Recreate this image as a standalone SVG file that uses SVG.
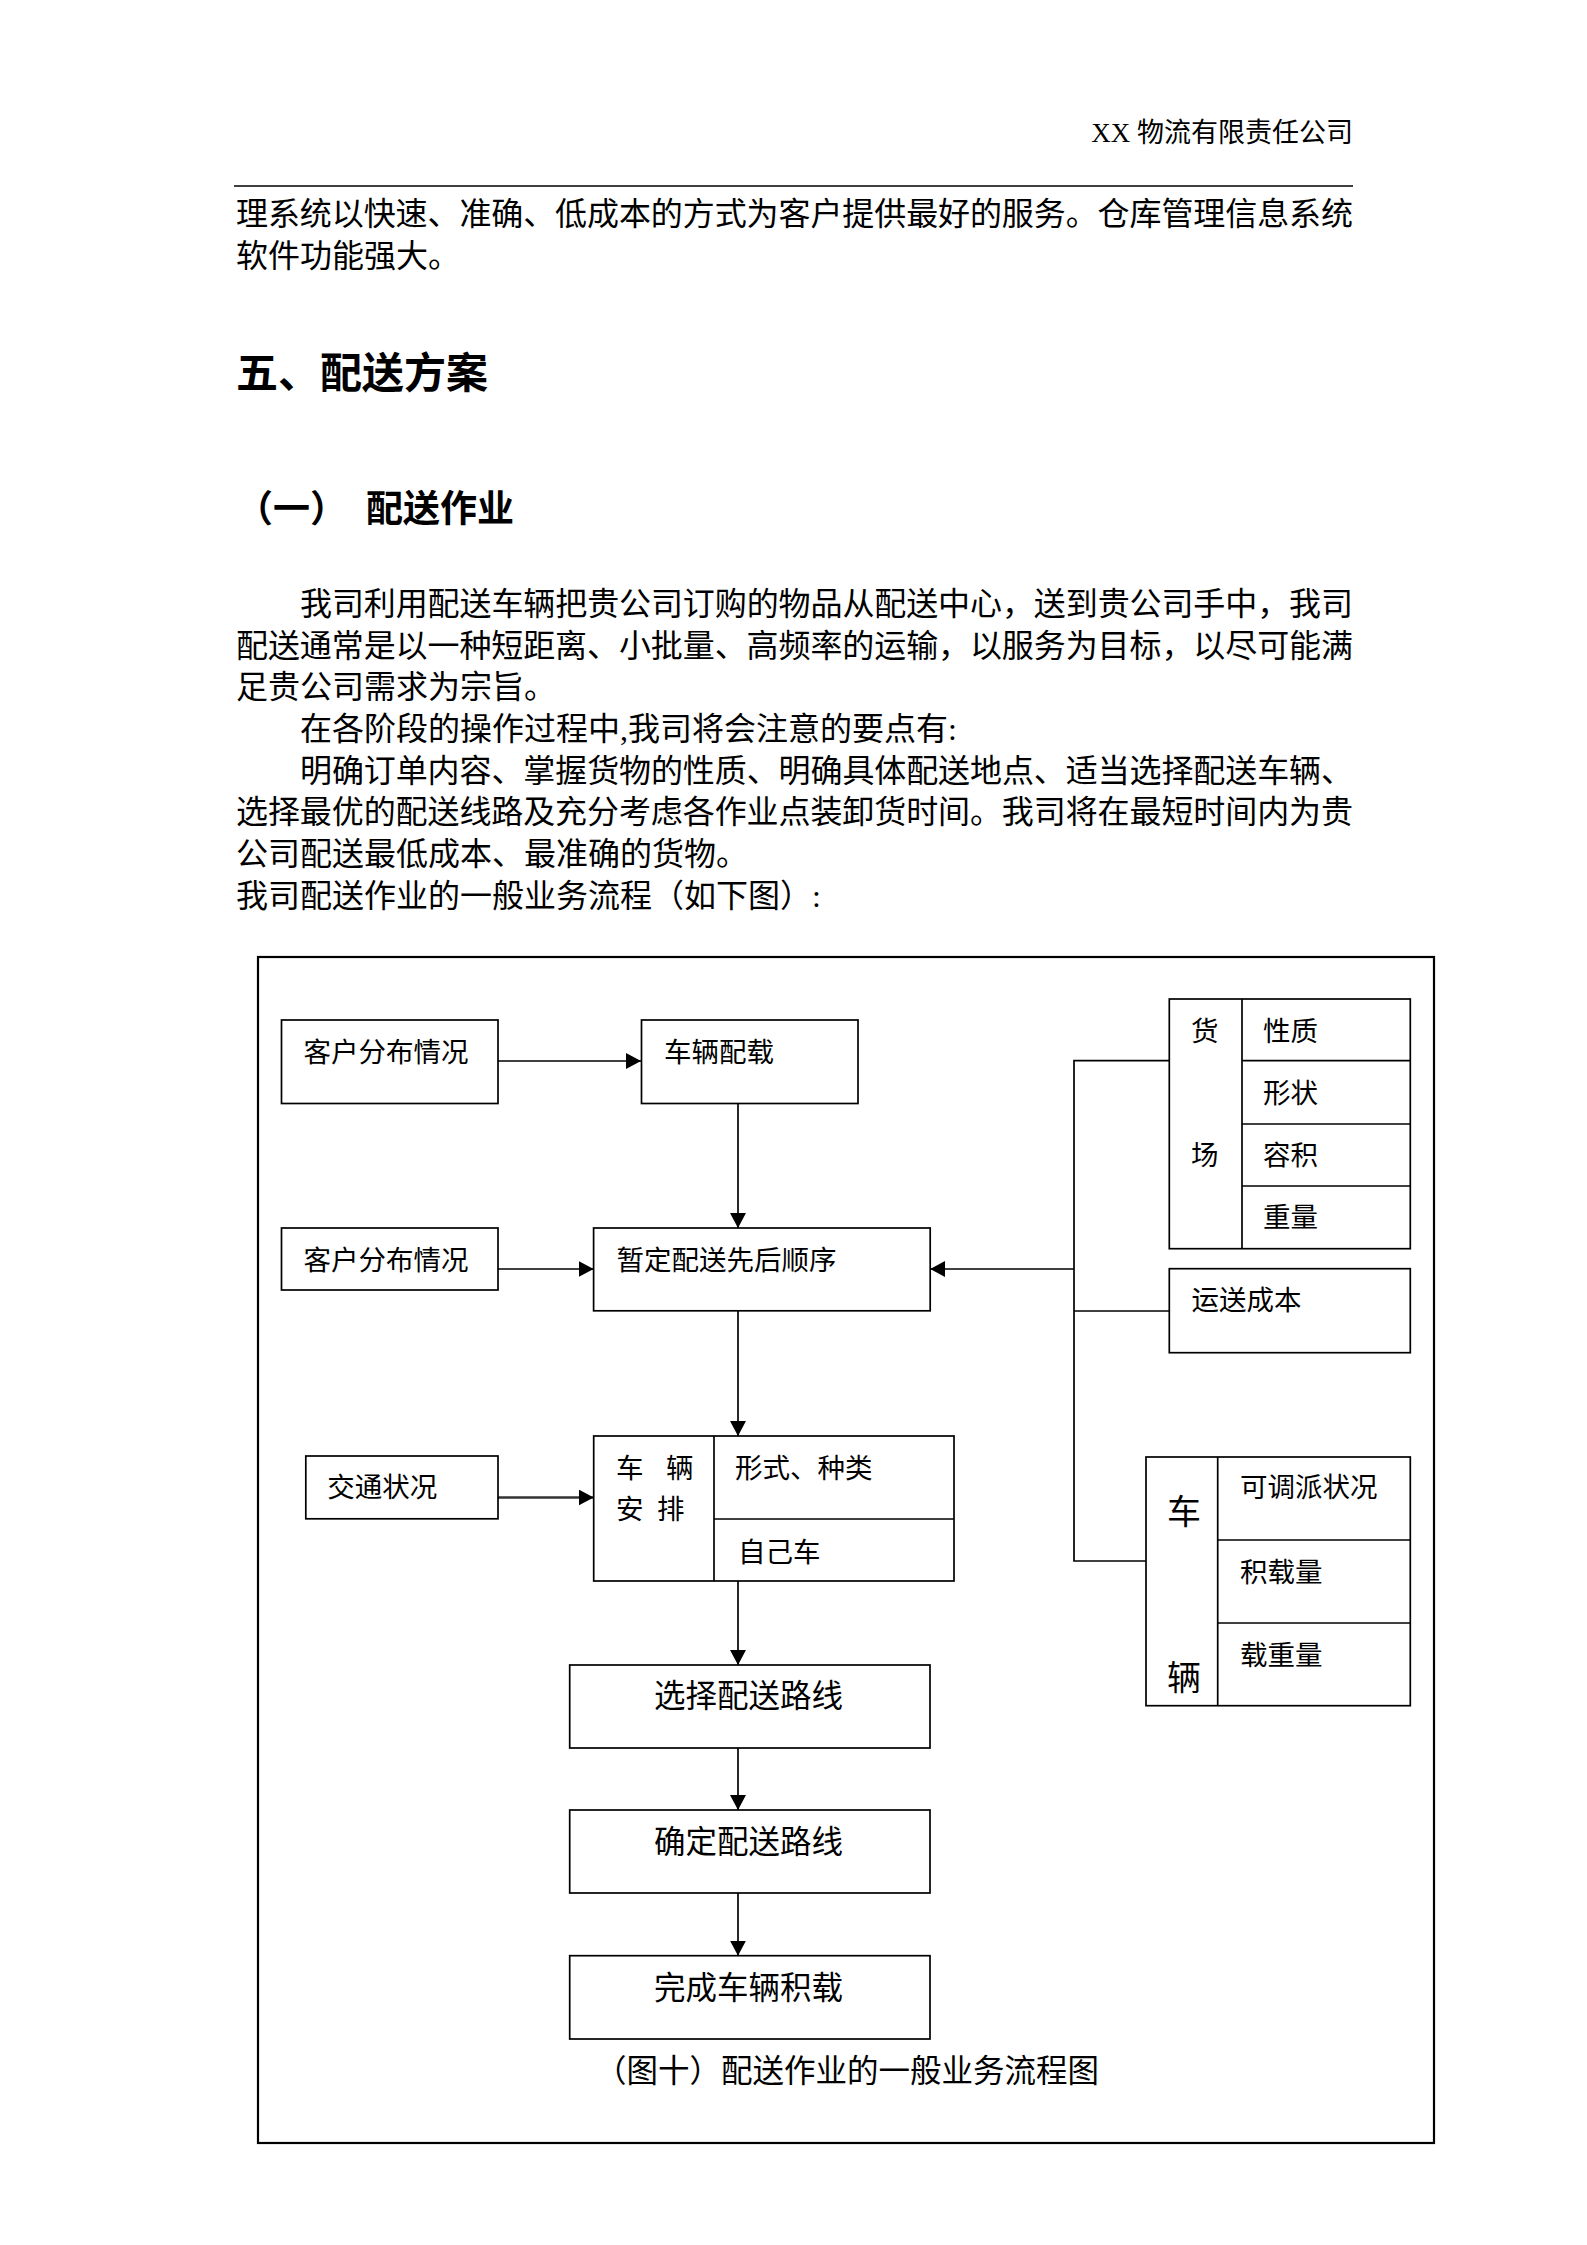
<svg xmlns="http://www.w3.org/2000/svg" width="1587" height="2245" viewBox="0 0 1587 2245">
<style>
text{font-family:'Liberation Serif','Noto Sans CJK SC',serif;fill:#000}
.body{font-size:32px}
.h1{font-family:'Noto Sans CJK SC',sans-serif;font-size:42px;font-weight:bold}
.h2{font-family:'Noto Sans CJK SC',sans-serif;font-size:37px;font-weight:bold}
.hdr{font-size:27px}
.t{font-size:27.5px}
.tl{font-size:31.5px}
.tv{font-size:34px}
.box{fill:#fff;stroke:#000;stroke-width:1.7}
.div{stroke:#000;stroke-width:1.7;fill:none}
.con{stroke:#000;stroke-width:1.7;fill:none}
.frame{fill:none;stroke:#000;stroke-width:2.2}
</style>
<defs>
<marker id="arr" markerUnits="userSpaceOnUse" markerWidth="16" markerHeight="16" refX="15" refY="8" orient="auto">
<path d="M0,0 L15,8 L0,16 Z" fill="#000"/>
</marker>
</defs>
<rect width="1587" height="2245" fill="#fff"/>

<g id="page-text">
<text class="hdr" x="1353" y="142" text-anchor="end">XX 物流有限责任公司</text>
<line x1="234" y1="186" x2="1353" y2="186" stroke="#000" stroke-width="1.7"/>
<text class="body" x="236" y="225" textLength="1117" lengthAdjust="spacing">理系统以快速、准确、低成本的方式为客户提供最好的服务。仓库管理信息系统</text>
<text class="body" x="236" y="267">软件功能强大。</text>
<text class="h1" x="236" y="388">五、配送方案</text>
<text class="h2" x="236" y="522">（一）</text>
<text class="h2" x="366" y="522">配送作业</text>
<text class="body" x="300" y="615" textLength="1053" lengthAdjust="spacing">我司利用配送车辆把贵公司订购的物品从配送中心，送到贵公司手中，我司</text>
<text class="body" x="236" y="657" textLength="1117" lengthAdjust="spacing">配送通常是以一种短距离、小批量、高频率的运输，以服务为目标，以尽可能满</text>
<text class="body" x="236" y="698">足贵公司需求为宗旨。</text>
<text class="body" x="300" y="740">在各阶段的操作过程中,我司将会注意的要点有:</text>
<text class="body" x="300" y="782" textLength="1053" lengthAdjust="spacing">明确订单内容、掌握货物的性质、明确具体配送地点、适当选择配送车辆、</text>
<text class="body" x="236" y="823" textLength="1117" lengthAdjust="spacing">选择最优的配送线路及充分考虑各作业点装卸货时间。我司将在最短时间内为贵</text>
<text class="body" x="236" y="865">公司配送最低成本、最准确的货物。</text>
<text class="body" x="236" y="907">我司配送作业的一般业务流程（如下图）:</text>
</g>

<g id="frame">
<rect class="frame" x="258" y="957" width="1176" height="1186"/>
</g>

<g id="connectors">
<path class="con" d="M498,1061 H641" marker-end="url(#arr)"/>
<path class="con" d="M738,1103.5 V1228" marker-end="url(#arr)"/>
<path class="con" d="M498,1269 H593.6" marker-end="url(#arr)"/>
<path class="con" d="M1074,1269 H930.2" marker-end="url(#arr)"/>
<path class="con" d="M738,1310.8 V1436" marker-end="url(#arr)"/>
<path d="M498,1497.5 H593.7" stroke="#333" stroke-width="2.4" fill="none" marker-end="url(#arr)"/>
<path class="con" d="M738,1581 V1665" marker-end="url(#arr)"/>
<path class="con" d="M738,1748 V1810" marker-end="url(#arr)"/>
<path class="con" d="M738,1893 V1955.7" marker-end="url(#arr)"/>
<path class="con" d="M1169.3,1060.7 H1074 V1561 H1146"/>
<path class="con" d="M1074,1311 H1169.3"/>
</g>

<g id="n1">
<rect class="box" x="281.5" y="1020" width="216.5" height="83.5"/>
<text class="t" x="303.5" y="1062">客户分布情况</text>
</g>
<g id="n2">
<rect class="box" x="641.5" y="1020" width="216.5" height="83.5"/>
<text class="t" x="664" y="1062">车辆配载</text>
</g>
<g id="n3">
<rect class="box" x="281.5" y="1228" width="216.5" height="62"/>
<text class="t" x="303.5" y="1270">客户分布情况</text>
</g>
<g id="n4">
<rect class="box" x="593.6" y="1228" width="336.6" height="82.8"/>
<text class="t" x="616.6" y="1270">暂定配送先后顺序</text>
</g>
<g id="n5">
<rect class="box" x="305.8" y="1456" width="192.2" height="62.8"/>
<text class="t" x="327.3" y="1497">交通状况</text>
</g>
<g id="n6">
<rect class="box" x="593.7" y="1436" width="360.3" height="145"/>
<line class="div" x1="714" y1="1436" x2="714" y2="1581"/>
<line class="div" x1="714" y1="1519" x2="954" y2="1519"/>
<text class="t" x="616 641 666" y="1478">车 辆</text>
<text class="t" x="616 637 657" y="1519">安 排</text>
<text class="t" x="735" y="1478">形式、种类</text>
<text class="t" x="738" y="1562">自己车</text>
</g>
<g id="n7">
<rect class="box" x="569.7" y="1665" width="360.3" height="83"/>
<text class="tl" x="654" y="1707">选择配送路线</text>
</g>
<g id="n8">
<rect class="box" x="569.7" y="1810" width="360.3" height="83"/>
<text class="tl" x="654" y="1853">确定配送路线</text>
</g>
<g id="n9">
<rect class="box" x="569.7" y="1955.7" width="360.3" height="83.3"/>
<text class="tl" x="654" y="1999">完成车辆积载</text>
</g>
<g id="n10">
<rect class="box" x="1169.3" y="999" width="241" height="249.7"/>
<line class="div" x1="1242" y1="999" x2="1242" y2="1248.7"/>
<line class="div" x1="1242" y1="1060.7" x2="1410.3" y2="1060.7"/>
<line class="div" x1="1242" y1="1124" x2="1410.3" y2="1124"/>
<line class="div" x1="1242" y1="1186" x2="1410.3" y2="1186"/>
<text class="t" x="1191" y="1041">货</text>
<text class="t" x="1191" y="1165">场</text>
<text class="t" x="1263" y="1041">性质</text>
<text class="t" x="1263" y="1103">形状</text>
<text class="t" x="1263" y="1165">容积</text>
<text class="t" x="1263" y="1227">重量</text>
</g>
<g id="n11">
<rect class="box" x="1169.3" y="1268.7" width="241" height="84"/>
<text class="t" x="1191.5" y="1310">运送成本</text>
</g>
<g id="n12">
<rect class="box" x="1146" y="1457" width="264.3" height="248.7"/>
<line class="div" x1="1217.7" y1="1457" x2="1217.7" y2="1705.7"/>
<line class="div" x1="1217.7" y1="1540" x2="1410.3" y2="1540"/>
<line class="div" x1="1217.7" y1="1623" x2="1410.3" y2="1623"/>
<text class="tv" x="1167" y="1524">车</text>
<text class="tv" x="1167" y="1690">辆</text>
<text class="t" x="1240" y="1497">可调派状况</text>
<text class="t" x="1240" y="1582">积载量</text>
<text class="t" x="1240" y="1665">载重量</text>
</g>
<g id="caption">
<text class="tl" x="595" y="2082">（图十）配送作业的一般业务流程图</text>
</g>
</svg>
